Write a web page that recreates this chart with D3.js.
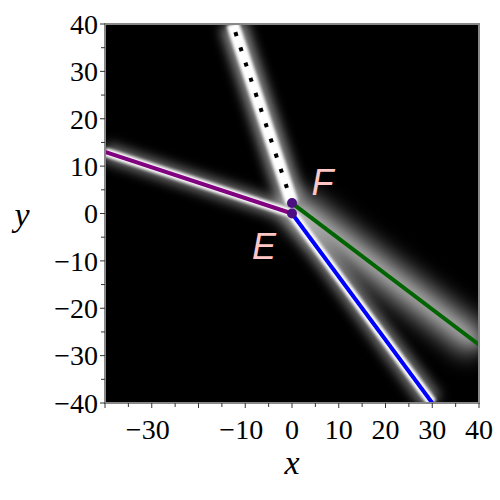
<!DOCTYPE html>
<html><head><meta charset="utf-8">
<script src="https://cdn.jsdelivr.net/npm/d3@7"></script>
<style>body{margin:0;background:#fff}</style>
</head><body>
<script>
// ---- data ----
const xDomain = [-40, 40];
const yDomain = [-40, 40];
const xTickLabels = [-30, -10, 0, 10, 20, 30, 40];
const yTickLabels = [-40, -30, -20, -10, 0, 10, 20, 30, 40];
const minorTicks = d3.range(-40, 41, 5);
const purpleLine = [[-40, 13], [0, 0]];
const blueLine = [[0, 0], [30, -40]];
const greenLine = [[0, 2.2], [40, -27.7]];
const dottedLine = [[0, 2.2], [-12.7, 40]];
const points = [{name: "E", x: 0, y: 0}, {name: "F", x: 0, y: 2.2}];
const labels = [{text: "E", x: -6, y: -7}, {text: "F", x: 6.5, y: 6.5}];

const W = 500, H = 500;
const svg = d3.select("body").append("svg").attr("width", W).attr("height", H);
const x = d3.scaleLinear().domain(xDomain).range([105, 479]);
const y = d3.scaleLinear().domain(yDomain).range([403, 24]);
const line = d3.line().x(d => x(d[0])).y(d => y(d[1]));

const defs = svg.append("defs");
defs.append("clipPath").attr("id", "clip").append("rect")
  .attr("x", 105).attr("y", 24).attr("width", 374).attr("height", 379);
function blur(id, s) {
  defs.append("filter").attr("id", id).attr("x", "-50%").attr("y", "-50%")
    .attr("width", "200%").attr("height", "200%")
    .append("feGaussianBlur").attr("stdDeviation", s);
}
blur("b1", 1.5); blur("b2", 3); blur("b3", 6); blur("b4", 11);

svg.append("rect").attr("x", 105).attr("y", 24).attr("width", 374).attr("height", 379).attr("fill", "#000");

const g = svg.append("g").attr("clip-path", "url(#clip)");
const glow = g.append("g");
function addGlow(data, specs) {
  specs.forEach(s => {
    glow.append("path").attr("d", line(data)).attr("fill", "none")
      .attr("stroke", "#fff").attr("stroke-width", s[0]).attr("stroke-opacity", s[1])
      .attr("filter", `url(#${s[2]})`);
  });
}
addGlow(greenLine, [[34, 0.55, "b4"], [10, 0.35, "b3"]]);
addGlow(blueLine, [[22, 0.45, "b3"], [10, 1, "b1"]]);
addGlow(purpleLine, [[18, 0.45, "b3"], [9, 1, "b1"]]);
addGlow(dottedLine, [[26, 0.55, "b3"], [13, 1, "b1"]]);

g.append("path").attr("d", line(purpleLine)).attr("fill", "none").attr("stroke", "#800080").attr("stroke-width", 4);
g.append("path").attr("d", line(blueLine)).attr("fill", "none").attr("stroke", "#0000ff").attr("stroke-width", 4);
g.append("path").attr("d", line(greenLine)).attr("fill", "none").attr("stroke", "#006400").attr("stroke-width", 4);
g.append("path").attr("d", line(dottedLine)).attr("fill", "none").attr("stroke", "#000").attr("stroke-width", 4)
  .attr("stroke-dasharray", "4,12");

svg.selectAll("circle.pt").data(points).enter().append("circle")
  .attr("cx", d => x(d.x)).attr("cy", d => y(d.y)).attr("r", 5).attr("fill", "#4b0f82");

svg.selectAll("text.lab").data(labels).enter().append("text")
  .attr("x", d => x(d.x)).attr("y", d => y(d.y)).attr("text-anchor", "middle")
  .attr("dominant-baseline", "central")
  .attr("font-family", "Liberation Sans, Arial, sans-serif").attr("font-style", "italic")
  .attr("font-size", 36).attr("fill", "#ffc6c6").text(d => d.text);

// frame
svg.append("rect").attr("x", 105).attr("y", 24).attr("width", 374).attr("height", 379)
  .attr("fill", "none").attr("stroke", "#888").attr("stroke-width", 2);

// axes
const font = "Liberation Serif, Times New Roman, serif";
const fmt = v => v < 0 ? "\u2212" + Math.abs(v) : String(v);
const xa = svg.append("g").attr("transform", "translate(0,403)");
xa.selectAll("line").data(minorTicks).enter().append("line")
  .attr("x1", d => x(d)).attr("x2", d => x(d)).attr("y1", 0).attr("y2", d => d % 10 === 0 ? 5 : 4)
  .attr("stroke", "#333").attr("stroke-width", 1);
xa.selectAll("text").data(xTickLabels).enter().append("text")
  .attr("x", d => x(d) - (d < 0 ? 4 : 0)).attr("y", 36).attr("text-anchor", "middle")
  .attr("font-family", font).attr("font-size", 28).attr("fill", "#000").text(fmt);

const ya = svg.append("g").attr("transform", "translate(105,0)");
ya.selectAll("line").data(minorTicks).enter().append("line")
  .attr("y1", d => y(d)).attr("y2", d => y(d)).attr("x1", 0).attr("x2", d => d % 10 === 0 ? -5 : -4)
  .attr("stroke", "#333").attr("stroke-width", 1);
ya.selectAll("text").data(yTickLabels).enter().append("text")
  .attr("x", -7).attr("y", d => y(d)).attr("dy", "0.35em").attr("text-anchor", "end")
  .attr("font-family", font).attr("font-size", 28).attr("fill", "#000").text(fmt);

svg.append("text").attr("x", 292).attr("y", 474).attr("text-anchor", "middle")
  .attr("font-family", font).attr("font-style", "italic").attr("font-size", 34).text("x");
svg.append("text").attr("x", 22).attr("y", 226).attr("text-anchor", "middle")
  .attr("font-family", font).attr("font-style", "italic").attr("font-size", 34).text("y");
</script>
</body></html>
